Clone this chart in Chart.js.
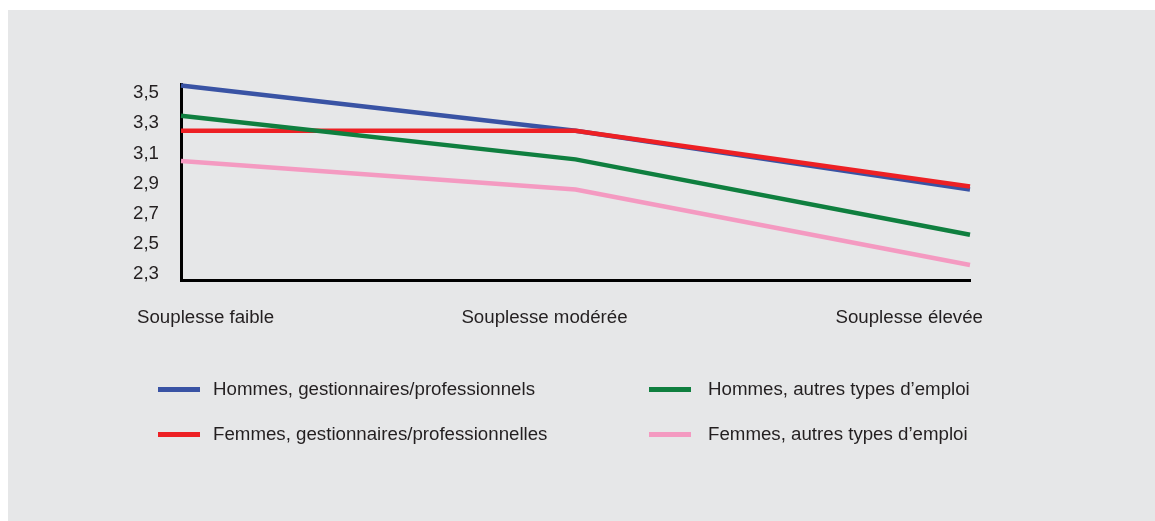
<!DOCTYPE html>
<html>
<head>
<meta charset="utf-8">
<script src="https://cdn.jsdelivr.net/npm/chart.js@4"></script>
<style>
  html, body { margin: 0; padding: 0; background: #fff; }
  body { width: 1155px; height: 521px; position: relative; overflow: hidden; font-family: 'Liberation Sans', Arial, sans-serif; }
  #panel { position: absolute; left: 8px; top: 10px; width: 1147px; height: 511px; background: #e6e7e8; }
  #wrap { position: absolute; left: 0; top: 0; width: 1147px; height: 511px; }
  .leg { position: absolute; display: flex; align-items: center; font-size: 18.7px; color: #231f20; white-space: nowrap; }
  .leg span.sw { display: inline-block; width: 42px; height: 5px; margin-right: 13px; }
  .leg.right span.sw { margin-right: 17px; }
</style>
</head>
<body>
<div id="panel">
  <div id="wrap"><canvas id="myChart"></canvas></div>
  <div id="legend"></div>
</div>
<script>
const categories = ['Souplesse faible', 'Souplesse modérée', 'Souplesse élevée'];
const yTicks = [2.3, 2.5, 2.7, 2.9, 3.1, 3.3, 3.5];

const hommesGest = [3.55, 3.25, 2.86];
const femmesGest = [3.25, 3.25, 2.88];
const hommesAutres = [3.35, 3.06, 2.56];
const femmesAutres = [3.05, 2.86, 2.36];

const seriesNames = [
  'Hommes, gestionnaires/professionnels',
  'Femmes, gestionnaires/professionnelles',
  'Hommes, autres types d\u2019emploi',
  'Femmes, autres types d\u2019emploi'
];
const seriesColors = ['#3953a4', '#ed2024', '#0f7f3f', '#f49ac1'];

function buildLegend() {
  const legend = document.querySelector('#legend');
  // two columns, two rows
  const spots = [[150, 368], [150, 413], [641, 368], [641, 413]];
  seriesNames.forEach((name, i) => {
    const div = document.createElement('div');
    div.className = i >= 2 ? 'leg right' : 'leg';
    div.style.left = spots[i][0] + 'px';
    div.style.top = spots[i][1] + 'px';
    div.innerHTML = '<span class="sw" style="background:' + seriesColors[i] + '"></span>' + name;
    legend.appendChild(div);
  });
}

// category labels under the x axis, placed like the original
const xLabelPlugin = {
  id: 'xLabels',
  afterDraw(chart) {
    const ctx = chart.ctx;
    const x = chart.scales.x;
    const base = chart.chartArea.bottom + 38;
    ctx.save();
    ctx.font = '18.7px "Liberation Sans", Arial, sans-serif';
    ctx.fillStyle = '#231f20';
    ctx.textBaseline = 'middle';
    categories.forEach((label, i) => {
      const px = x.getPixelForValue(i);
      if (i === 0) {
        ctx.textAlign = 'left';
        ctx.fillText(label, px - 44, base);
      } else if (i === categories.length - 1) {
        ctx.textAlign = 'right';
        ctx.fillText(label, px + 13, base);
      } else {
        ctx.textAlign = 'center';
        ctx.fillText(label, px - 31, base);
      }
    });
    ctx.restore();
  }
};

function initChart(target) {
  const data = {
    labels: categories,
    datasets: [hommesGest, femmesGest, hommesAutres, femmesAutres].map((vals, i) => ({
      label: seriesNames[i],
      data: vals,
      borderColor: seriesColors[i],
      backgroundColor: seriesColors[i],
      borderWidth: 4.5,
      pointRadius: 0,
      tension: 0,
      clip: false
    }))
  };
  // draw red above blue like the original
  data.datasets[0].order = 2;
  data.datasets[1].order = 1;

  const config = {
    type: 'line',
    data: data,
    options: {
      responsive: true,
      maintainAspectRatio: false,
      animation: false,
      layout: { padding: { left: 113, right: 185, top: 74, bottom: 241 } },
      plugins: { legend: { display: false }, tooltip: { enabled: false } },
      scales: {
        x: {
          type: 'category',
          offset: false,
          grid: { display: false, drawTicks: false },
          border: { display: true, color: '#000', width: 3 },
          ticks: { display: false }
        },
        y: {
          min: 2.26,
          max: 3.56,
          grid: { display: false, drawTicks: false },
          border: { display: true, color: '#000', width: 3 },
          afterBuildTicks: (scale) => { scale.ticks = yTicks.map((v) => ({ value: v })); },
          afterFit: (scale) => { scale.width = 60; },
          ticks: {
            padding: 22,
            color: '#231f20',
            font: { family: '"Liberation Sans", Arial, sans-serif', size: 18.7 },
            callback: (v) => v.toFixed(1).replace('.', ',')
          }
        }
      }
    },
    plugins: [xLabelPlugin]
  };
  return new Chart(target, config);
}

document.addEventListener('DOMContentLoaded', () => {
  buildLegend();
  initChart(document.querySelector('#myChart'));
});
</script>
</body>
</html>
